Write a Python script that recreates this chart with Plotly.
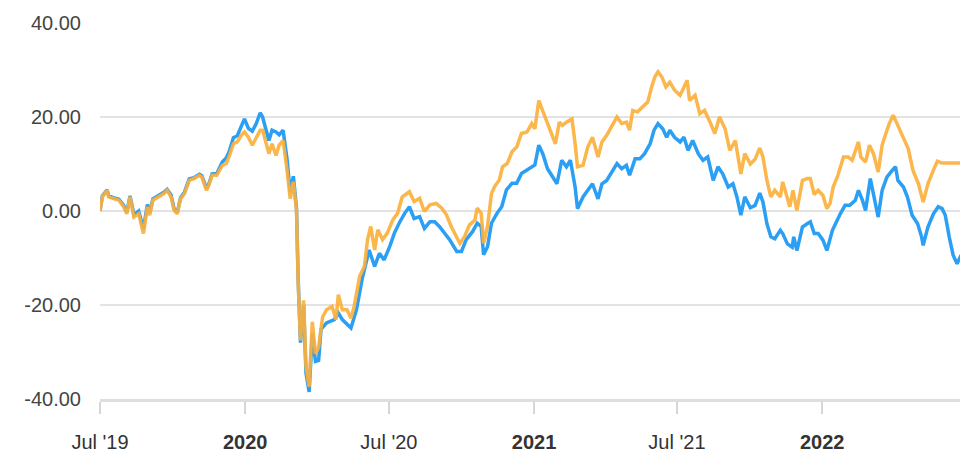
import pandas as pd
import plotly.graph_objects as go

START_DATE = "2019-07-01"

# days since start date and values (orange series)
orange_days = [0, 3, 9, 11, 18, 24, 30, 34, 38, 43, 49, 55, 60, 63, 67, 75, 81, 85, 90, 94, 98, 102, 107, 113, 119,
               126, 129, 135, 138, 142, 148, 155, 160, 164, 169, 174, 179, 183, 188, 193, 198, 203, 206, 211, 214,
               218, 223, 227, 232, 237, 241, 245, 249, 251, 254, 258, 261, 265, 269, 273, 277, 282, 287, 294, 299,
               302, 307, 313, 318, 322, 329, 335, 339, 343, 348, 352, 358, 364, 371, 377, 383, 392, 398, 405, 411,
               418, 426, 433, 439, 445, 456, 462, 468, 475, 478, 483, 486, 491, 496, 500, 506, 510, 516, 522, 528,
               534, 541, 547, 551, 556, 561, 566, 572, 577, 582, 586, 591, 598, 602, 605, 612, 618, 624, 631, 636,
               642, 648, 655, 661, 667, 671, 675, 681, 688, 694, 699, 703, 707, 712, 717, 722, 728, 735, 740, 744,
               747, 754, 760, 766, 773, 779, 785, 792, 798, 805, 812, 817, 824, 830, 836, 840, 845, 850, 855, 862,
               865, 871, 874, 878, 883, 890, 896, 900, 905, 910, 916, 921, 925, 929, 935, 942, 948, 953, 957, 961,
               964, 970, 975, 980, 986, 991, 995, 1000, 1005, 1010, 1014, 1019, 1024, 1030, 1037, 1043, 1049, 1056,
               1061, 1067, 1080, 1096]
orange_vals = [0, 3, 4.4, 3, 2.6, 2.3, 0.9, -0.6, 3, -1.3, -0.6, -4.8, 0.9, -0.9, 2.3, 3, 3.7, 4.4, 3, 0.1, -0.6,
               2.6, 3.7, 6.5, 6.9, 7.6, 7.2, 4.4, 5.5, 7.6, 7.6, 9.7, 10.1, 11.8, 14.3, 14.7, 16.1, 16.8, 15.7, 14,
               15.7, 17.2, 17.2, 13.6, 12.2, 14.3, 11.8, 14, 15, 8.7, 2.6, 6.2, 0.1, -14.8, -27.5, -19, -33.2, -37.4,
               -23.6, -30.4, -29, -22.6, -21, -20.3, -23.1, -17.8, -21, -21, -22.8, -20.3, -13.9, -11.8, -6.1, -3.3,
               -8.3, -4, -6.1, -4.7, -1.9, -0.5, 3, 4.1, 2, 2.7, -0.1, 1.3, 1.6, 0.6, -0.8, -3.3, -6.9, -5.4, -3,
               -1.9, 0.6, -0.5, -6.9, -3.3, 3.7, 5.2, 6.6, 9.4, 10.1, 12.6, 13.6, 16.5, 16.8, 18.6, 17.5, 23.5, 21.4,
               18.9, 16.5, 14.3, 18.9, 18.2, 18.9, 19.6, 14.3, 9.4, 9.7, 13.6, 15.7, 11.5, 14.7, 16.1, 17.9, 20,
               18.6, 18.9, 17.2, 21.4, 21.1, 22.1, 23.2, 26.4, 28.5, 29.6, 28.5, 26.4, 27.4, 25.7, 24.6, 26.4, 27.8,
               23.5, 24.6, 20.7, 21.4, 18.9, 16.5, 20, 17.5, 12.9, 15, 7.9, 12.2, 10, 11, 13.4, 11.5, 6.5, 3, 4.4, 3,
               6.2, 3, 0.9, 4.4, 0.1, 6.5, 6.9, 6.9, 3.5, 4.4, 3.3, 0.5, 1.6, 5.1, 7.6, 11.5, 11.5, 10.8, 12.6, 14.7,
               11.5, 10.4, 14, 12.2, 8.3, 14, 16.1, 18.6, 20.4, 18.6, 16.8, 15.4, 13.3, 8.7, 5.8, 1.9, 5.8, 8.7,
               10.6, 10.2, 10.2, 10.2]

# days since start date and values (blue series)
blue_days = [0, 3, 9, 11, 18, 24, 30, 34, 38, 43, 49, 55, 60, 63, 67, 75, 81, 85, 90, 94, 98, 102, 107, 113, 119,
             126, 129, 135, 138, 142, 148, 155, 160, 164, 169, 174, 179, 183, 188, 193, 198, 203, 206, 211, 214,
             218, 223, 227, 232, 237, 241, 245, 249, 251, 254, 258, 261, 265, 269, 273, 277, 280, 287, 297, 302,
             307, 318, 325, 332, 341, 348, 354, 360, 367, 373, 379, 386, 392, 398, 405, 411, 418, 424, 430, 437,
             443, 452, 458, 464, 472, 478, 483, 486, 491, 496, 503, 509, 515, 522, 528, 534, 541, 547, 551, 556,
             561, 567, 574, 579, 585, 591, 596, 602, 605, 612, 618, 624, 631, 636, 642, 648, 655, 661, 667, 671,
             678, 684, 690, 697, 702, 707, 713, 718, 722, 728, 735, 740, 745, 751, 758, 764, 770, 777, 783, 789,
             796, 802, 807, 812, 817, 824, 830, 836, 840, 845, 850, 855, 862, 865, 871, 877, 879, 883, 890, 896,
             900, 905, 910, 916, 921, 928, 933, 938, 944, 950, 957, 961, 966, 970, 976, 981, 986, 991, 997, 1004,
             1008, 1011, 1018, 1023, 1029, 1036, 1041, 1043, 1049, 1056, 1062, 1067, 1071, 1076, 1081, 1086, 1091,
             1096]
blue_vals = [0, 3.2, 4.5, 3.2, 2.8, 2.5, 1.2, -0.3, 3.2, -0.8, 0, -3.8, 1.4, -0.4, 2.6, 3.3, 4, 4.6, 3.4, 0.4, -0.3,
             2.8, 4, 6.8, 7.1, 7.8, 7.5, 4.8, 5.8, 7.9, 8, 10.4, 11.3, 12.8, 15.6, 16, 18.2, 19.6, 17.6, 17, 18.6,
             20.9, 20, 16.6, 15, 17.2, 16.8, 16.2, 17.2, 11, 4, 7.4, 0.5, -14, -28, -20, -34.5, -38.5, -26, -32,
             -31.8, -25.2, -23.8, -23.1, -21.7, -23.1, -24.9, -21, -14.6, -8.3, -11.8, -9, -10.4, -7.6, -4.7, -2.6,
             -0.5, 0.9, -1.6, -1.2, -3.7, -2.3, -2.3, -3.3, -4.7, -6.1, -8.6, -8.6, -6.1, -4.4, -2.6, -3.3, -9.3,
             -7.6, -2.6, -0.5, 0.9, 4.5, 5.9, 5.9, 8, 8.7, 9.4, 9.8, 14, 12.2, 9, 7.2, 5.8, 10.8, 9.4, 10.8, 5.1,
             0.5, 3, 4.4, 5.8, 2.6, 5.8, 6.5, 8.3, 10.1, 9, 9.7, 7.6, 11.1, 11.1, 12.2, 14.3, 17.2, 18.6, 17.5,
             15.7, 17.2, 15.7, 14.7, 15.7, 12.9, 15, 12.2, 10.8, 11.5, 6.5, 9.4, 7.9, 5.1, 5.8, 3, -0.9, 3, 0.7,
             1.2, 3.8, 1.9, -2.7, -5.5, -5.9, -4.1, -4.8, -7, -7.7, -5.5, -8.4, -3.4, -2.7, -2.3, -4.8, -4.8, -6.2,
             -8.4, -4.1, -2.3, -0.6, 1.2, 1.2, 2.3, 4.4, 2.3, 0.1, 6.9, 2.6, -1.3, 4.4, 7.2, 8.7, 9.4, 6.5, 5.1, 3,
             -0.9, -2.7, -5.5, -7.3, -3.4, -0.6, 0.9, 0.5, -0.9, -5.5, -9.4, -11.2, -9.4, -11.2]

tick_dates = ["2019-07-01", "2020-01-01", "2020-07-01", "2021-01-01", "2021-07-01", "2022-01-01"]
tick_labels = ["Jul '19", "<b>2020</b>", "Jul '20", "<b>2021</b>", "Jul '21", "<b>2022</b>"]
y_ticks = [-40, -20, 0, 20, 40]
y_tick_labels = ["-40.00", "-20.00", "0.00", "20.00", "40.00"]

start = pd.Timestamp(START_DATE)
orange_x = start + pd.to_timedelta(orange_days, unit="D")
blue_x = start + pd.to_timedelta(blue_days, unit="D")

fig = go.Figure()
fig.add_trace(go.Scatter(x=blue_x, y=blue_vals, mode="lines",
                         line=dict(color="#2b9ff4", width=3.5), showlegend=False, hoverinfo="skip"))
fig.add_trace(go.Scatter(x=orange_x, y=orange_vals, mode="lines",
                         line=dict(color="#fbb13c", width=3.5), opacity=0.92, showlegend=False, hoverinfo="skip"))

fig.update_layout(
    width=968, height=461,
    margin=dict(l=92, r=11, t=15, b=70),
    paper_bgcolor="white", plot_bgcolor="white",
    font=dict(family="Liberation Sans, Arial, sans-serif", size=20, color="#333333"),
)
fig.update_xaxes(
    range=[start, start + pd.Timedelta(days=1096)],
    tickvals=tick_dates, ticktext=tick_labels, automargin=False,
    showgrid=False, showline=True, linecolor="#dedede", linewidth=3,
    ticks="outside", ticklen=12, tickwidth=1.5, tickcolor="#d6d6d6",
    tickfont=dict(size=20, color="#333333"), ticklabelstandoff=11,
)
fig.update_yaxes(
    range=[-40, 40], tickvals=y_ticks, ticktext=y_tick_labels, automargin=False,
    showgrid=True, gridcolor="#e3e3e3", gridwidth=1.5, zeroline=False,
    showline=False, ticks="", tickfont=dict(size=20, color="#444444"),
    ticklabelstandoff=18,
)

fig.write_html("out.html")
